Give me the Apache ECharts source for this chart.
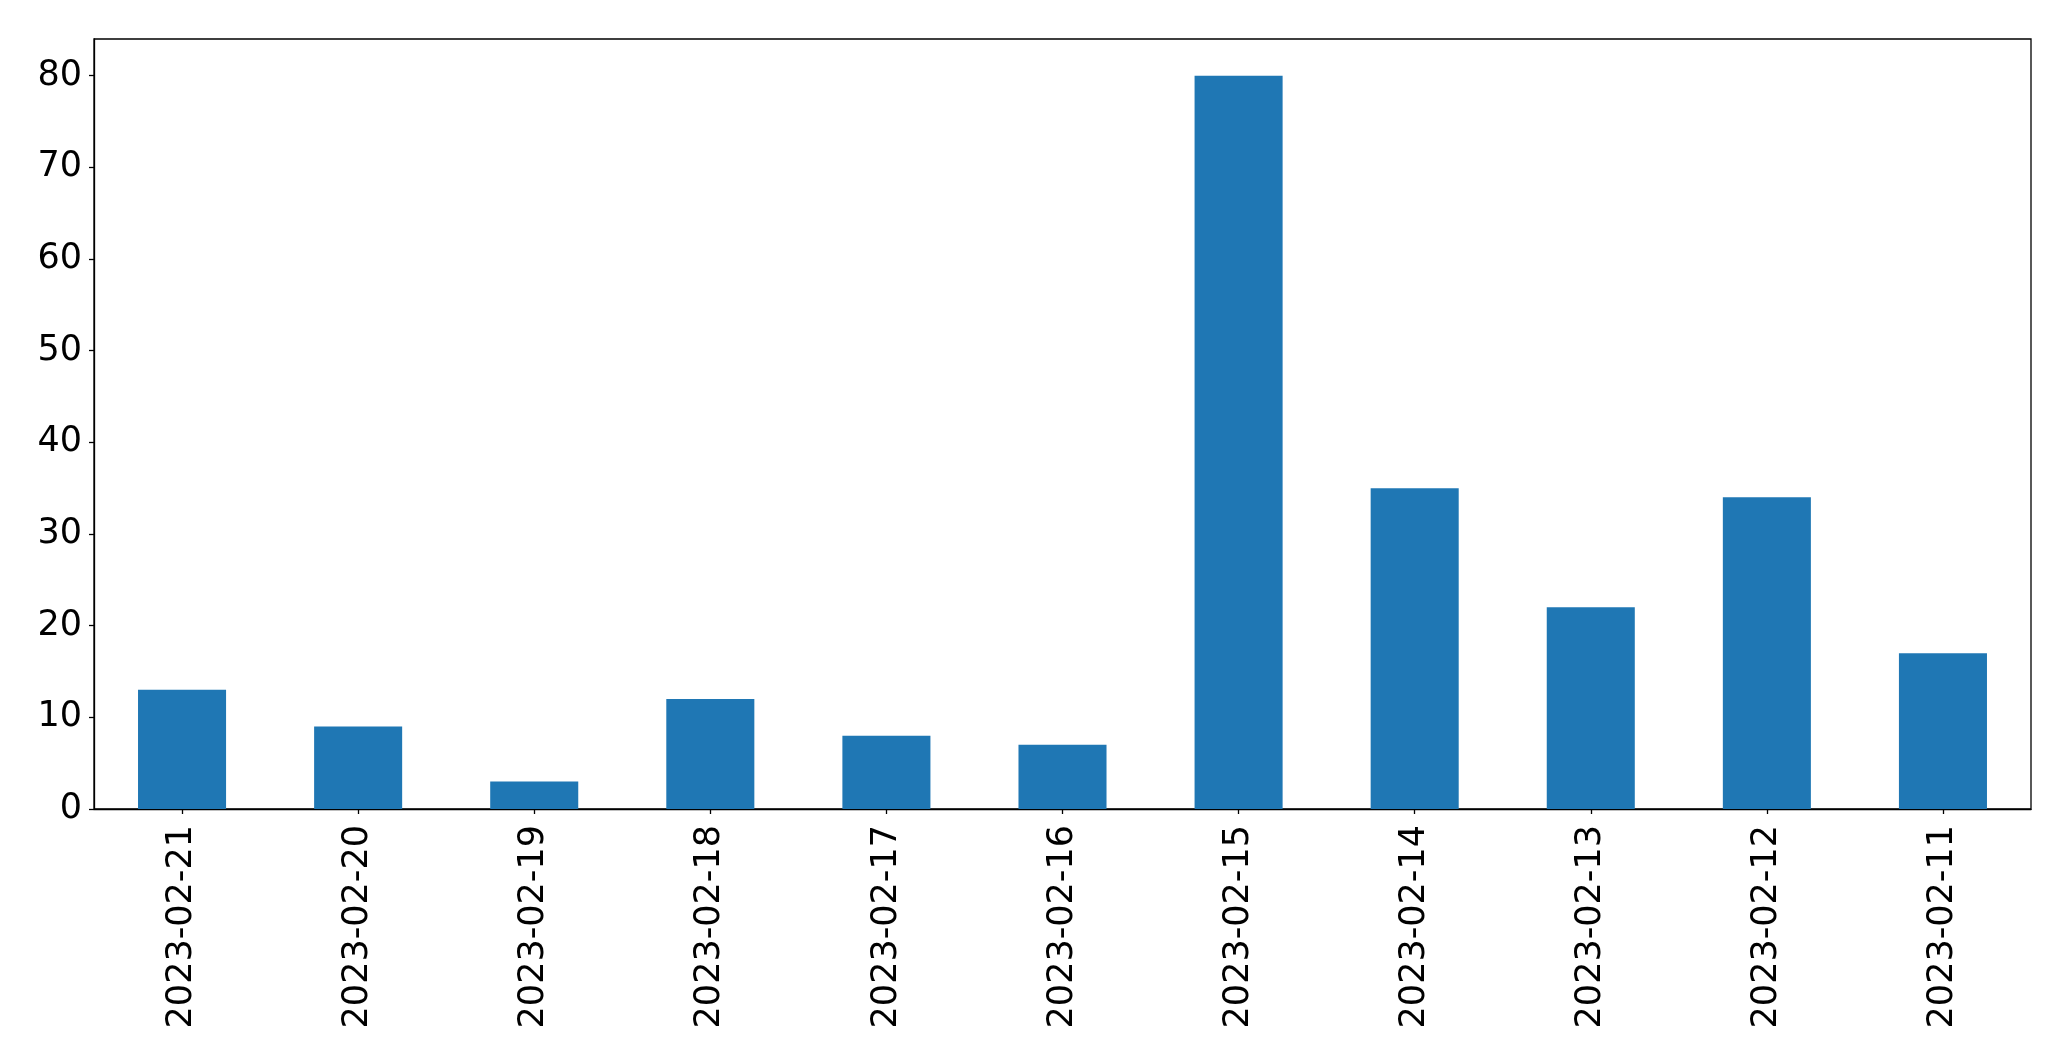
<!DOCTYPE html>
<html>
<head>
<meta charset="utf-8">
<script src="https://cdn.jsdelivr.net/npm/echarts@6/dist/echarts.min.js"></script>
<style>
html,body{margin:0;padding:0;background:#fff;}
#chart{width:2071px;height:1061px;}
</style>
</head>
<body>
<div id="chart"></div>
<script>
const categories = ["2023-02-21","2023-02-20","2023-02-19","2023-02-18","2023-02-17","2023-02-16","2023-02-15","2023-02-14","2023-02-13","2023-02-12","2023-02-11"];
const values = [13, 9, 3, 12, 8, 7, 80, 35, 22, 34, 17];
const yTicks = [0, 10, 20, 30, 40, 50, 60, 70, 80];
const yMax = 84;

const chart = echarts.init(document.getElementById('chart'), null, {renderer: 'canvas'});
const font = 'DejaVu Sans';
chart.setOption({
  animation: false,
  backgroundColor: '#ffffff',
  grid: {left: 94, top: 39, right: 40, bottom: 252, show: true, borderColor: '#000', borderWidth: 1.3, containLabel: false},
  xAxis: {
    type: 'category',
    data: categories,
    boundaryGap: true,
    axisLine: {show: true, lineStyle: {color: '#000', width: 1.3}},
    axisTick: {show: true, alignWithLabel: true, length: 5, lineStyle: {color: '#000', width: 1.3}},
    axisLabel: {rotate: 90, color: '#000', fontFamily: font, fontSize: 35, margin: 16, interval: 0},
    splitLine: {show: false}
  },
  yAxis: {
    type: 'value',
    min: 0,
    max: yMax,
    interval: 10,
    axisLine: {show: true, lineStyle: {color: '#000', width: 1.3}},
    axisTick: {show: true, length: 5, lineStyle: {color: '#000', width: 1.3}, customValues: yTicks},
    axisLabel: {color: '#000', fontFamily: font, fontSize: 35, margin: 12, customValues: yTicks},
    splitLine: {show: false}
  },
  series: [{
    type: 'bar',
    data: values,
    barWidth: '50%',
    itemStyle: {color: '#1f77b4'}
  }]
});
</script>
</body>
</html>
